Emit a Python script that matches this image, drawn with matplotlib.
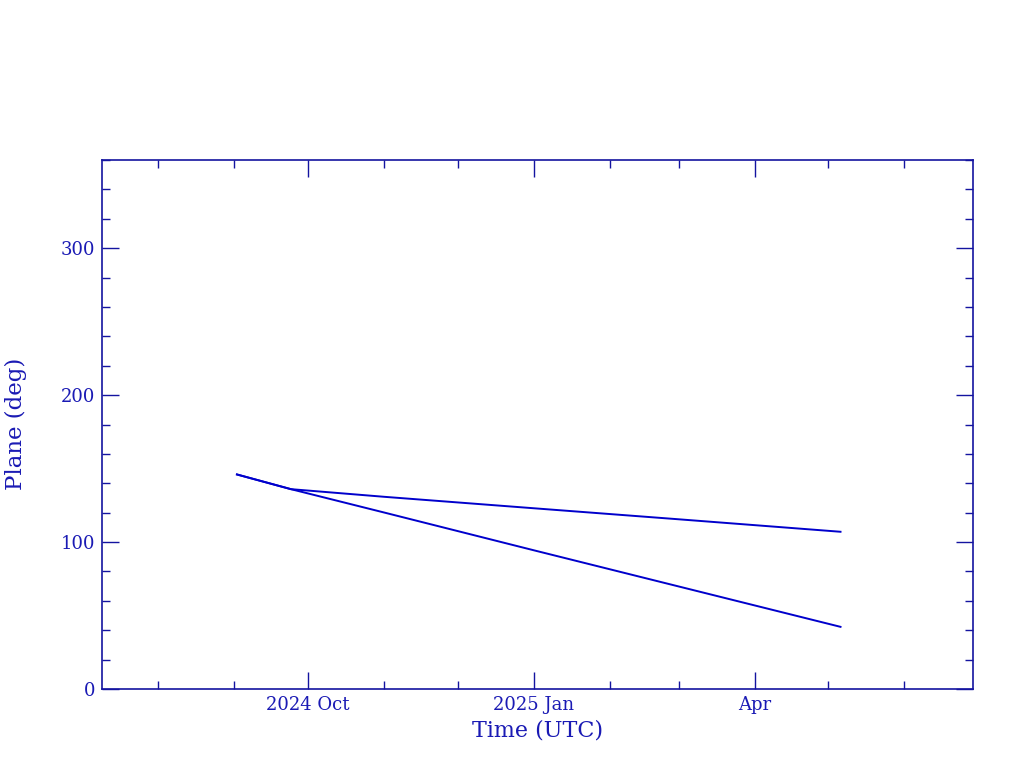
import matplotlib
matplotlib.use("Agg")
import matplotlib.pyplot as plt
import matplotlib.dates as mdates
import numpy as np
from datetime import datetime

# Data
dates = ["2024-09-02", "2024-09-13", "2024-09-24", "2024-11-01",
         "2025-01-01", "2025-03-01", "2025-05-06"]
plane_a = [146.0, 141.0, 136.0, 120.1, 94.4, 69.8, 42.3]
plane_b = [146.0, 141.0, 136.0, 130.8, 123.0, 115.5, 107.0]

major_ticks = ["2024-10-01", "2025-01-01", "2025-04-01"]
major_labels = ["2024 Oct", "2025 Jan", "Apr"]
minor_ticks = ["2024-08-01", "2024-09-01", "2024-11-01", "2024-12-01",
               "2025-02-01", "2025-03-01", "2025-05-01", "2025-06-01"]
xlim = ["2024-07-09", "2025-06-29"]

axis_col = "#1414a0"
text_col = "#1a1ab4"
line_col = "#0000cc"

plt.rcParams['font.family'] = ['DejaVu Serif']

fig = plt.figure(figsize=(10.24, 7.68), dpi=100)
ax = fig.add_axes([102/1024, 1 - 689/768, (973-102)/1024, (689-160)/768])

d = [datetime.fromisoformat(s) for s in dates]
ax.plot(d, plane_a, color=line_col, lw=1.4)
ax.plot(d, plane_b, color=line_col, lw=1.4)

ax.set_xlim(*[mdates.date2num(datetime.fromisoformat(s)) for s in xlim])
ax.set_ylim(0, 360)

ax.set_xticks([mdates.date2num(datetime.fromisoformat(s)) for s in major_ticks])
ax.set_xticklabels(major_labels)
ax.set_xticks([mdates.date2num(datetime.fromisoformat(s)) for s in minor_ticks], minor=True)
ax.set_yticks([0, 100, 200, 300])
ax.set_yticks(np.arange(0, 361, 20), minor=True)

for sp in ax.spines.values():
    sp.set_color(axis_col)
    sp.set_linewidth(1.2)

ax.tick_params(which='both', direction='in', top=True, right=True,
               color=axis_col, labelcolor=text_col, labelsize=13, width=1.0)
ax.tick_params(which='major', length=12, pad=5)
ax.tick_params(which='minor', length=6)

ax.set_xlabel("Time (UTC)", color=text_col, fontsize=16, labelpad=4)
ax.set_ylabel("Plane (deg)", color=text_col, fontsize=16.5)
ax.yaxis.set_label_coords((27 - 102) / (973 - 102), (689 - 424) / (689 - 160))

fig.savefig("out.png", dpi=100, facecolor="white")
